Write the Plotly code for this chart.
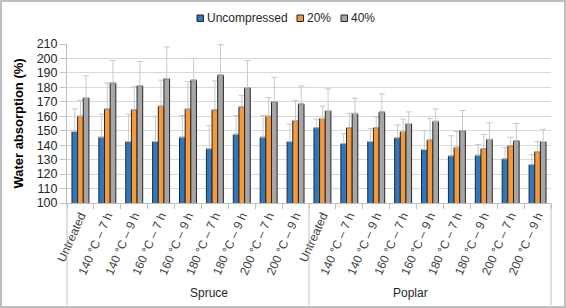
import plotly.graph_objects as go

treatments = ["Untreated", "140 °C – 7 h", "140 °C – 9 h", "160 °C – 7 h", "160 °C – 9 h",
              "180 °C – 7 h", "180 °C – 9 h", "200 °C – 7 h", "200 °C – 9 h"]
species = ["Spruce", "Poplar"]
tick_labels = treatments + treatments

uncompressed = [149.5, 145.5, 142.5, 142.5, 145.5, 137.5, 147.5, 145.5, 142.5,
                152, 141, 142.5, 145, 137, 132.5, 133, 130.5, 126.5]
uncompressed_err = [15.5, 16, 19, 17.5, 15, 16, 13, 15, 12,
                    6, 7, 9, 9, 13, 14, 7.5, 8, 7]
c20 = [160, 165, 164.5, 167, 165, 164.5, 166.5, 160, 157,
       158.5, 152, 152, 149.5, 143.5, 138.5, 137.5, 139.5, 135.5]
c20_err = [11, 18, 16, 18, 19, 20, 8, 13, 14,
           8.5, 10, 7.5, 8.5, 15, 11, 10, 6, 7]
c40 = [173, 183, 181, 186, 185, 188.5, 179.5, 170, 168.5,
       164, 162, 163, 155, 156.5, 150, 144, 143, 142.5]
c40_err = [15, 15.5, 17, 22, 15, 21, 19, 17, 12.5,
           15, 10.5, 12.5, 8, 8.5, 14, 11.5, 12, 8.5]

series = [
    ("Uncompressed", uncompressed, uncompressed_err, "#2E78C2"),
    ("20%", c20, c20_err, "#F5993A"),
    ("40%", c40, c40_err, "#A6A6A6"),
]

xpos = list(range(len(tick_labels)))

fig = go.Figure()
for name, vals, errs, col in series:
    fig.add_trace(go.Bar(
        x=xpos, y=vals, name=name, showlegend=False,
        marker=dict(color=col, line=dict(color="#262626", width=1)),
        error_y=dict(type="data", array=errs, arrayminus=[0] * len(errs), symmetric=False,
                     color="#C8C8C8", thickness=1, width=3),
    ))

W, H = 566, 308
ml, mr, mt, mb = 67, 15, 44, 105
pw, ph = W - ml - mr, H - mt - mb

def px_x(px):
    return (px - ml) / pw

def px_y(py):
    return (H - mb - py) / ph

fig.update_layout(
    width=W, height=H,
    margin=dict(l=ml, r=mr, t=mt, b=mb, autoexpand=False),
    paper_bgcolor="white", plot_bgcolor="white",
    barmode="group", bargap=0.37, bargroupgap=0,
    font=dict(family="Liberation Sans, Arial, sans-serif", color="#262626", size=12),
    showlegend=False,
)
fig.update_xaxes(
    automargin=False,
    range=[-0.5, len(tick_labels) - 0.5],
    tickmode="array", tickvals=xpos, ticktext=tick_labels, tickangle=-66,
    tickfont=dict(size=12, color="#404040"),
    showgrid=False, showline=True, linecolor="#BFBFBF", linewidth=1,
    ticks="",
    minor=dict(tickmode="array", tickvals=[i + 0.5 for i in range(-1, len(tick_labels))],
               ticks="outside", ticklen=5, tickcolor="#BFBFBF", showgrid=False),
)
fig.update_yaxes(
    automargin=False,
    range=[100, 210], dtick=10,
    title=dict(text="<b>Water absorption (%)</b>", font=dict(size=13, color="#000000"), standoff=10),
    tickfont=dict(size=12.5, color="#262626"),
    showgrid=True, gridcolor="#D9D9D9", gridwidth=1,
    showline=True, linecolor="#BFBFBF", linewidth=1,
    ticks="outside", ticklen=6, tickcolor="#BFBFBF",
    zeroline=False,
)

# manual legend (colour keys + labels)
legend_items = [("Uncompressed", "#2E78C2", 197), ("20%", "#F5993A", 297), ("40%", "#A6A6A6", 341)]
ly = 18
for name, col, x0 in legend_items:
    fig.add_shape(type="rect", xref="paper", yref="paper",
                  x0=px_x(x0), x1=px_x(x0 + 6.5), y0=px_y(ly + 3.5), y1=px_y(ly - 3),
                  fillcolor=col, line=dict(color="#262626", width=1))
    fig.add_annotation(text=name, xref="paper", yref="paper", x=px_x(x0 + 8), y=px_y(ly),
                       xanchor="left", yanchor="middle", showarrow=False,
                       font=dict(size=12, color="#262626"))

# group separators and labels
for xp in [0, 0.5, 1]:
    fig.add_shape(type="line", xref="paper", yref="paper", x0=xp, x1=xp, y0=0, y1=px_y(305),
                  line=dict(color="#BFBFBF", width=1))
for i, sp in enumerate(species):
    fig.add_annotation(text=sp, xref="paper", yref="paper", x=0.25 + 0.5 * i,
                       y=px_y(293), showarrow=False, yanchor="middle",
                       font=dict(size=12, color="#262626"))

# outer frame
fig.add_shape(type="rect", xref="paper", yref="paper",
              x0=px_x(1), x1=px_x(W - 1), y0=px_y(H - 1), y1=px_y(1),
              line=dict(color="#BFBFBF", width=2), layer="below")

fig.write_html("out.html", config={"displayModeBar": False, "staticPlot": True},
               post_script="document.body.style.margin='0';document.body.style.padding='0';")
